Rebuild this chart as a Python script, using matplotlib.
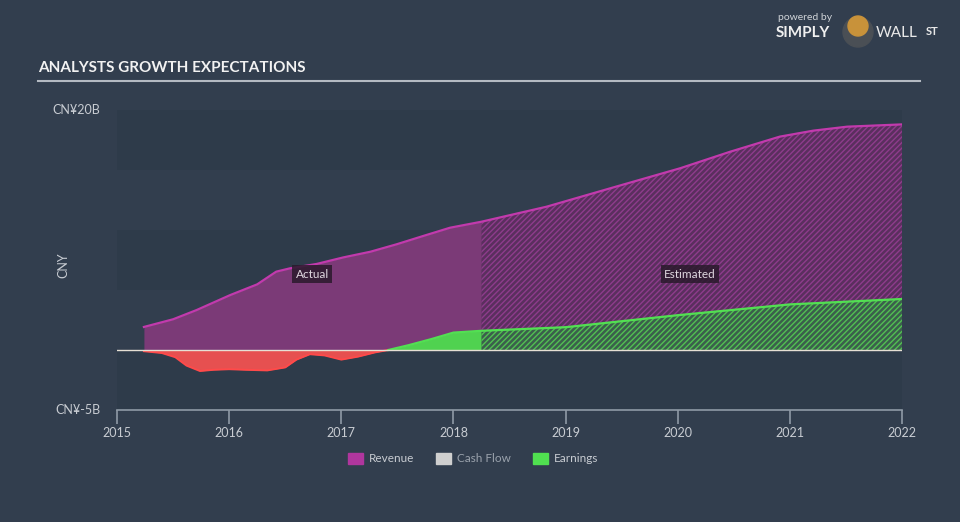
import numpy as np
import matplotlib
matplotlib.use("Agg")
from matplotlib import pyplot as plt

# data (CNY billions)
rev_years = [2015.24, 2015.50, 2015.71, 2016.01, 2016.25, 2016.42, 2016.54, 2016.78,
             2017.02, 2017.26, 2017.49, 2017.73, 2017.97, 2018.25,
             2018.83, 2019.43, 2020.02, 2020.47, 2020.91, 2021.21, 2021.51, 2022.0]
rev_vals = [1.92, 2.56, 3.33, 4.58, 5.47, 6.53, 6.80, 7.17,
            7.72, 8.19, 8.80, 9.50, 10.19, 10.69,
            11.94, 13.56, 15.14, 16.53, 17.78, 18.28, 18.61, 18.80]

earn_years = [2015.24, 2015.40, 2015.52, 2015.62, 2015.74, 2015.86, 2016.0, 2016.15,
              2016.34, 2016.50, 2016.60, 2016.72, 2016.85, 2017.0, 2017.15,
              2017.30, 2017.42, 2017.60, 2017.80, 2018.0, 2018.25,
              2019.0, 2020.0, 2021.0, 2022.0]
earn_vals = [-0.10, -0.25, -0.60, -1.30, -1.75, -1.65, -1.60, -1.65,
             -1.70, -1.45, -0.80, -0.35, -0.45, -0.80, -0.55,
             -0.20, 0.0, 0.40, 0.90, 1.45, 1.60,
             1.90, 2.90, 3.80, 4.25]

split_year = 2018.25
year_ticks = [2015, 2016, 2017, 2018, 2019, 2020, 2021, 2022]

BG = "#323e4e"
DARK_BAND = "#2e3b4a"
TXT = "#c8ccd2"

plt.rcParams["font.family"] = ["Lato", "DejaVu Sans"]

fig = plt.figure(figsize=(9.6, 5.22), dpi=100)
fig.patch.set_facecolor(BG)
ax = fig.add_axes([117 / 960, 1 - 410 / 522, 785 / 960, 300 / 522])
ax.set_facecolor(BG)
ax.set_xlim(2015, 2022)
ax.set_ylim(-5, 20)

# horizontal bands
for lo, hi in [(15, 20), (5, 10), (-5, 0)]:
    ax.axhspan(lo, hi, color=DARK_BAND, lw=0, zorder=0)

rx = np.array(rev_years)
ry = np.array(rev_vals)
ex = np.array(earn_years)
ey = np.array(earn_vals)

# revenue: actual solid, estimated hatched
act = rx <= split_year
est = rx >= split_year
ax.fill_between(rx[act], 0, ry[act], color="#7b3a77", lw=0, zorder=2)
ax.fill_between(rx[est], 0, ry[est], facecolor="#5a2f5e", edgecolor="#8e3c8c",
                hatch="//////", lw=0, zorder=2)
ax.plot(rx, ry, color="#c23aad", lw=1.6, zorder=4)

# earnings
eact = ex <= split_year
eest = ex >= split_year
xa, ya = ex[eact], ey[eact]
ax.fill_between(xa, 0, ya, where=ya <= 0, interpolate=True, color="#e65050", lw=0, zorder=3)
ax.fill_between(xa, 0, ya, where=ya >= 0, interpolate=True, color="#50d250", lw=0, zorder=3)
ax.fill_between(ex[eest], 0, ey[eest], facecolor="#3b5f4c", edgecolor="#52c052",
                hatch="//////", lw=0, zorder=3)
ax.plot(ex[ey <= 0.001], ey[ey <= 0.001], color="#ff4a4a", lw=1.4, zorder=4)
ax.plot(ex[ey >= -0.001], ey[ey >= -0.001], color="#52e052", lw=1.6, zorder=4)

# cash flow / zero line
ax.axhline(0, color="#e6e0d4", lw=1.0, zorder=5)

# Actual / Estimated labels
box = dict(boxstyle="square,pad=0.3", fc="#2a1a2c", ec="none", alpha=0.85)
ax.text(2016.74, 6.3, "Actual", color="#e0d8e0", fontsize=8.5, ha="center", va="center",
        bbox=box, zorder=6)
ax.text(2020.11, 6.3, "Estimated", color="#e0d8e0", fontsize=8.5, ha="center", va="center",
        bbox=box, zorder=6)

# axes styling
for s in ["top", "right", "left"]:
    ax.spines[s].set_visible(False)
ax.spines["bottom"].set_color("#8f9aa6")
ax.spines["bottom"].set_linewidth(1.2)
ax.set_xticks(year_ticks)
ax.set_xticklabels([str(y) for y in year_ticks])
ax.tick_params(axis="x", colors="#8f9aa6", labelcolor=TXT, length=10, width=1.2,
               direction="out", labelsize=9, pad=2)
ax.set_yticks([])

fig.text(100 / 960, 1 - 110 / 522, "CN¥20B", color=TXT, fontsize=9, ha="right", va="center")
fig.text(100 / 960, 1 - 410 / 522, "CN¥-5B", color=TXT, fontsize=9, ha="right", va="center")
fig.text(63 / 960, 1 - 265 / 522, "CNY", color=TXT, fontsize=9, ha="center", va="center",
         rotation=90)

# title and rule
fig.text(38 / 960, 1 - 68 / 522, "ANALYSTS GROWTH EXPECTATIONS", color="#f2f2f2",
         fontsize=11, fontweight="bold", ha="left", va="center")
fig.add_artist(plt.Line2D([38 / 960, 920 / 960], [1 - 81 / 522, 1 - 81 / 522],
                          color="#b4bac2", lw=1.5))

# logo
fig.text(778 / 960, 1 - 18 / 522, "powered by", color="#d0d4d8", fontsize=7.5,
         ha="left", va="center")
fig.text(776 / 960, 1 - 33 / 522, "SIMPLY", color="#f0f0f0", fontsize=11,
         fontweight="bold", ha="left", va="center")
fig.add_artist(matplotlib.patches.Ellipse((858 / 960, 1 - 32 / 522), 30 / 960, 30 / 522,
                                          transform=fig.transFigure, color="#4a4f55"))
fig.add_artist(matplotlib.patches.Ellipse((858 / 960, 1 - 26 / 522), 20 / 960, 20 / 522,
                                          transform=fig.transFigure, color="#c8923a"))
fig.text(876 / 960, 1 - 33 / 522, "WALL", color="#e8e8e8", fontsize=11,
         ha="left", va="center")
fig.text(926 / 960, 1 - 31 / 522, "ST", color="#e8e8e8", fontsize=8, fontweight="bold",
         ha="left", va="center")

# legend
leg_items = [("Revenue", "#b0369e", TXT, 348), ("Cash Flow", "#cfcfcf", "#9aa2ac", 436),
             ("Earnings", "#50e050", TXT, 533)]
for name, c, tc, px in leg_items:
    fig.add_artist(matplotlib.patches.Rectangle((px / 960, 1 - 464 / 522), 15 / 960, 11 / 522,
                                                transform=fig.transFigure, color=c))
    fig.text((px + 21) / 960, 1 - 458 / 522, name, color=tc, fontsize=8.5,
             ha="left", va="center")

fig.savefig("out.png", dpi=100, facecolor=fig.get_facecolor())
